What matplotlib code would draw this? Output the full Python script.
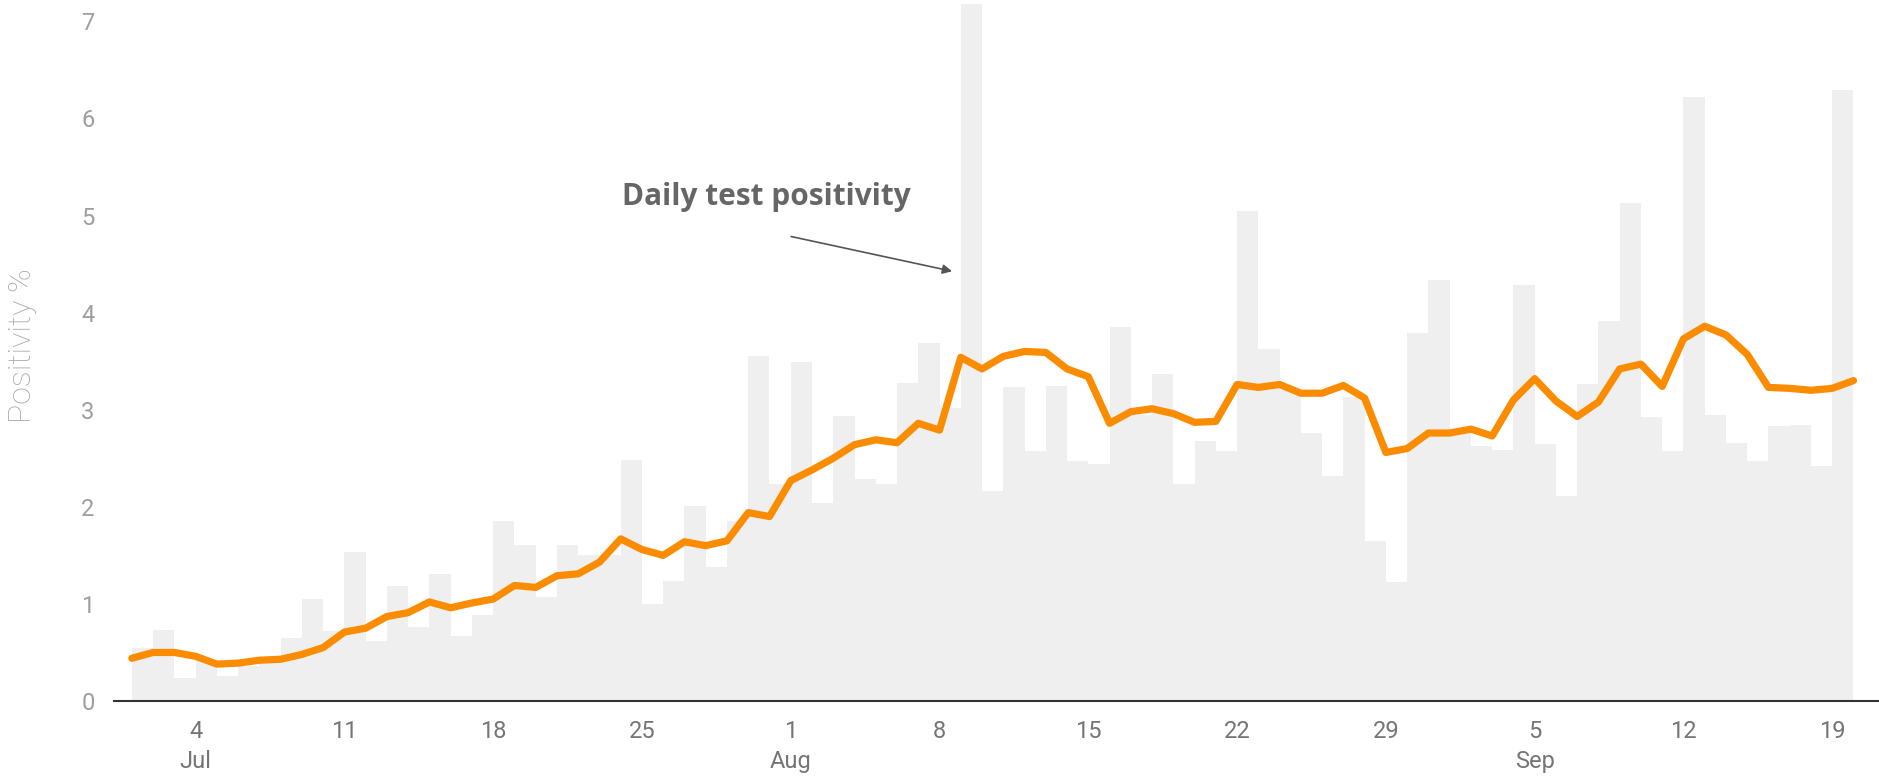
import matplotlib
matplotlib.use('Agg')
import matplotlib.pyplot as plt
import numpy as np

# daily test positivity (%), one bar per day, 1 Jul .. 19 Sep
daily = [0.55, 0.73, 0.24, 0.42, 0.26, 0.36, 0.42, 0.65, 1.05, 0.72,
         1.53, 0.62, 1.18, 0.76, 1.31, 0.67, 0.89, 1.85, 1.61, 1.07,
         1.61, 1.50, 1.50, 2.48, 1.00, 1.24, 2.01, 1.38, 1.85, 3.55, 2.24,
         3.49, 2.04, 2.94, 2.29, 2.24, 3.28, 3.69, 3.02, 7.18, 2.16,
         3.23, 2.58, 3.24, 2.47, 2.44, 3.85, 2.95, 3.37, 2.23, 2.68,
         2.58, 5.05, 3.63, 3.20, 2.76, 2.32, 3.13, 1.65, 1.23, 3.79, 4.34,
         2.78, 2.63, 2.59, 4.28, 2.65, 2.11, 3.27, 3.91, 5.13, 2.93,
         2.58, 6.22, 2.95, 2.66, 2.47, 2.83, 2.84, 2.42, 6.29]

# rolling average line, 1 Jul .. 20 Sep
average = [0.44, 0.50, 0.50, 0.46, 0.38, 0.39, 0.42, 0.43, 0.48, 0.55,
           0.71, 0.75, 0.87, 0.91, 1.02, 0.96, 1.01, 1.05, 1.19, 1.17,
           1.29, 1.31, 1.43, 1.67, 1.56, 1.50, 1.64, 1.60, 1.65, 1.94, 1.90,
           2.27, 2.38, 2.50, 2.64, 2.69, 2.66, 2.86, 2.79, 3.54, 3.42,
           3.55, 3.60, 3.59, 3.42, 3.34, 2.86, 2.98, 3.01, 2.96, 2.87,
           2.88, 3.26, 3.23, 3.26, 3.17, 3.17, 3.25, 3.12, 2.56, 2.60, 2.76,
           2.76, 2.80, 2.73, 3.10, 3.32, 3.09, 2.93, 3.08, 3.42, 3.47,
           3.24, 3.73, 3.86, 3.77, 3.57, 3.23, 3.22, 3.20, 3.22, 3.30]

# day offsets from 1 Jul for the tick labels
tick_days = [3, 10, 17, 24, 31, 38, 45, 52, 59, 66, 73, 80]
tick_labels = ['4\nJul', '11', '18', '25', '1\nAug', '8', '15', '22', '29',
               '5\nSep', '12', '19']

plt.rcParams['font.family'] = ['Roboto', 'DejaVu Sans']

fig = plt.figure(figsize=(18.79, 7.78), dpi=100)
ax = fig.add_axes([114/1879, 77/778, 1 - 114/1879, 701/778])

bar_x = np.arange(len(daily))
line_x = np.arange(len(average))
ax.bar(bar_x, daily, width=1.0, align='edge', color='#efefef', linewidth=0, zorder=1)
ax.plot(line_x, average, color='#fb8c00', linewidth=5.2, solid_joinstyle='round',
        solid_capstyle='round', zorder=3)

ax.set_xlim(-0.84, 82.2)
ax.set_ylim(0, 7.22)

for s in ['top', 'right', 'left']:
    ax.spines[s].set_visible(False)
ax.spines['bottom'].set_color('#333333')
ax.spines['bottom'].set_linewidth(1.5)
ax.spines['bottom'].set_zorder(4)

ax.set_yticks(range(0, 8))
ax.set_xticks(tick_days)
ax.set_xticklabels(tick_labels, linespacing=1.36)
ax.tick_params(axis='both', length=0, labelsize=17)
ax.tick_params(axis='y', pad=14, colors='#9e9e9e')
ax.tick_params(axis='x', pad=14, colors='#757575')

fig.text(23/1879, 1 - 346/778, 'Positivity %', rotation=90, ha='center', va='center',
         color='#a8a8a8', fontsize=23, fontweight='light')

ax.text(29.83, 5.19, 'Daily test positivity', ha='center', va='center',
        fontsize=21.5, fontweight='bold', color='#666666', family=['Open Sans', 'DejaVu Sans'])
ax.annotate('', xy=(38.72, 4.42), xytext=(30.89, 4.79),
            arrowprops=dict(arrowstyle='-|>', color='#555555', lw=1.2, mutation_scale=14))

fig.savefig('out.png', dpi=100)
